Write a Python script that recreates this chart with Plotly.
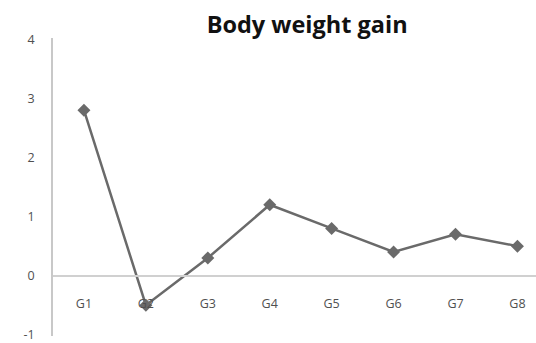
import plotly.graph_objects as go

groups = ["G1", "G2", "G3", "G4", "G5", "G6", "G7", "G8"]
gain = [2.8, -0.5, 0.3, 1.2, 0.8, 0.4, 0.7, 0.5]
y_ticks = [-1, 0, 1, 2, 3, 4]
y_tick_text = ["-1", "0", "1", "2", "3", "4"]

fig = go.Figure()
fig.add_trace(go.Scatter(
    x=groups, y=gain, mode="lines+markers",
    line=dict(color="#6a6a6a", width=2.5),
    marker=dict(symbol="diamond", size=10, color="#6a6a6a"),
    showlegend=False,
))

fig.update_layout(
    width=536, height=343,
    margin=dict(l=53, r=0, t=38, b=4),
    plot_bgcolor="white", paper_bgcolor="white",
    title=dict(text="<b>Body weight gain</b>", x=0.573, xanchor="center",
               y=0.928, yanchor="middle",
               font=dict(family="Open Sans", size=23.5, color="#111111")),
    font=dict(family="Open Sans", size=12, color="#555555"),
)

# category axis sits on the zero line
fig.update_xaxes(
    type="category", range=[-0.5, 7.3],
    anchor="free", position=0.2,
    showline=True, linecolor="#d0d0d0", linewidth=1.5,
    showgrid=False, zeroline=False, ticks="",
    ticklabelstandoff=16,
    tickfont=dict(family="Open Sans", size=12.5, color="#505050"),
)
fig.update_yaxes(
    range=[-1.02, 4.02], tickvals=y_ticks, ticktext=y_tick_text,
    showline=True, linecolor="#c8c8c8", linewidth=1.5,
    showgrid=False, zeroline=False, ticks="",
    ticklabelstandoff=14, ticklabeloverflow="allow",
    tickfont=dict(family="Open Sans", size=12.5, color="#505050"),
)

fig.write_html("out.html")
